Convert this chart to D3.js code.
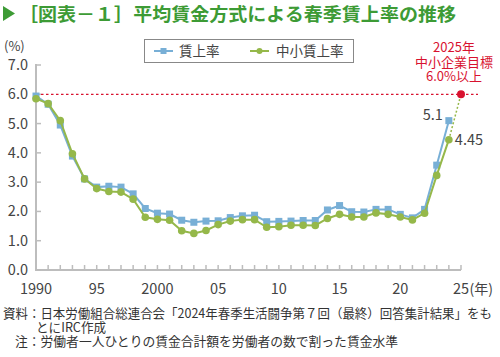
<!DOCTYPE html>
<html><head><meta charset="utf-8">
<script src="https://cdn.jsdelivr.net/npm/d3@7"></script>
<style>
html,body{margin:0;padding:0;background:#fff;}
svg{display:block;font-family:"Noto Sans CJK JP","Noto Sans",sans-serif;}
</style></head>
<body>
<svg id="c" width="500" height="357"></svg>
<script>
const years = d3.range(1990, 2025);
const wageRate = [5.94,5.66,4.95,3.89,3.11,2.83,2.86,2.83,2.60,2.10,1.94,1.91,1.70,1.63,1.67,1.68,1.79,1.85,1.87,1.65,1.66,1.67,1.69,1.69,2.05,2.20,1.99,1.98,2.07,2.07,1.90,1.78,2.07,3.58,5.10];
const smeRate  = [5.85,5.68,5.10,3.97,3.11,2.78,2.68,2.66,2.42,1.80,1.73,1.70,1.34,1.25,1.35,1.55,1.67,1.72,1.72,1.46,1.48,1.53,1.53,1.52,1.76,1.90,1.81,1.81,1.95,1.90,1.81,1.71,1.94,3.23,4.45];
const target = {year: 2025, value: 6.0};
const yTicks = [0,1,2,3,4,5,6,7];
const xTickLabels = [[1990,"1990"],[1995,"95"],[2000,"2000"],[2005,"05"],[2010,"10"],[2015,"15"],[2020,"20"],[2025,"25"]];
const seriesNames = ["賃上率","中小賃上率"];
const title = "［図表－１］平均賃金方式による春季賃上率の推移";
const annotation = ["2025年","中小企業目標","6.0%以上"];
const notes = ["資料：日本労働組合総連合会「2024年春季生活闘争第７回（最終）回答集計結果」をも","とにIRC作成","注：労働者一人ひとりの賃金合計額を労働者の数で割った賃金水準"];

const blue = "#78afd6", green = "#95b84a", red = "#d8122f", axisC = "#bdbdbd", txt = "#444";
const svg = d3.select("#c");
const x = d3.scaleLinear().domain([1990, 2025]).range([36, 461]);
const y = d3.scaleLinear().domain([0, 7]).range([270, 65]);

// title
svg.append("path").attr("d","M3,6 L15,13.5 L3,21 Z").attr("fill","#3d9b35");
svg.append("text").attr("x",19).attr("y",21).attr("fill","#3d9b35")
  .attr("font-size",18.5).attr("font-weight","bold")
  .attr("textLength",437).attr("lengthAdjust","spacingAndGlyphs").text(title);

// axes
svg.append("text").attr("x",4).attr("y",51).attr("font-size",13).attr("fill",txt).text("(%)");
const ga = svg.append("g");
ga.append("line").attr("x1",x(1990)).attr("x2",x(1990)).attr("y1",y(7)-1).attr("y2",y(0)+1).attr("stroke",axisC).attr("stroke-width",2);
ga.append("line").attr("x1",x(1990)-1).attr("x2",x(2025)).attr("y1",y(0)).attr("y2",y(0)).attr("stroke",axisC).attr("stroke-width",2);
ga.selectAll(".yt").data(yTicks).join("line").attr("x1",x(1990)).attr("x2",x(1990)+5)
  .attr("y1",d=>y(d)).attr("y2",d=>y(d)).attr("stroke",axisC).attr("stroke-width",1.5);
ga.selectAll(".ytl").data(yTicks).join("text").attr("x",28).attr("y",d=>y(d)+5)
  .attr("text-anchor","end").attr("font-size",14.5).attr("fill",txt).text(d=>d.toFixed(1));
ga.selectAll(".xt").data(d3.range(1991, 2026)).join("line").attr("x1",d=>x(d)).attr("x2",d=>x(d))
  .attr("y1",y(0)).attr("y2",y(0)-5).attr("stroke",axisC).attr("stroke-width",1.5);
ga.selectAll(".xtl").data(xTickLabels).join("text").attr("x",d=>x(d[0])).attr("y",294)
  .attr("text-anchor","middle").attr("font-size",14.5).attr("fill",txt).text(d=>d[1]);
ga.append("text").attr("x",x(2025)+8.5).attr("y",294).attr("font-size",14).attr("fill",txt).text("(年)");

// target line
svg.append("line").attr("x1",x(1990)).attr("x2",478).attr("y1",y(target.value)).attr("y2",y(target.value))
  .attr("stroke",red).attr("stroke-width",1.3).attr("stroke-dasharray","2.5,2.5");

// series
const line = d3.line().x((d,i)=>x(years[i])).y(d=>y(d));
svg.append("path").datum(wageRate).attr("d",line).attr("fill","none").attr("stroke",blue).attr("stroke-width",2);
svg.selectAll(".sq").data(wageRate).join("rect").attr("x",(d,i)=>x(years[i])-3.5).attr("y",d=>y(d)-3.5)
  .attr("width",7).attr("height",7).attr("fill",blue);
svg.append("path").datum(smeRate).attr("d",line).attr("fill","none").attr("stroke",green).attr("stroke-width",2);
svg.selectAll(".ci").data(smeRate).join("circle").attr("cx",(d,i)=>x(years[i])).attr("cy",d=>y(d))
  .attr("r",3.8).attr("fill",green);

// dotted to target
svg.append("line").attr("x1",x(2024)).attr("y1",y(smeRate[smeRate.length-1]))
  .attr("x2",x(target.year)).attr("y2",y(target.value))
  .attr("stroke",green).attr("stroke-width",1.5).attr("stroke-dasharray","2,2");
svg.append("circle").attr("cx",x(target.year)).attr("cy",y(target.value)).attr("r",4).attr("fill",red);

// value labels
svg.append("text").attr("x",x(2024)-6).attr("y",y(wageRate[wageRate.length-1])-1).attr("text-anchor","end")
  .attr("font-size",14.5).attr("fill",txt).text("5.1");
svg.append("text").attr("x",x(2024)+6).attr("y",y(smeRate[smeRate.length-1])+5)
  .attr("font-size",14.5).attr("fill",txt).text("4.45");

// annotation
svg.selectAll(".an").data(annotation).join("text").attr("x",454).attr("y",(d,i)=>52+i*14.7)
  .attr("text-anchor","middle").attr("font-size",13).attr("fill",red).text(d=>d);

// legend
const lg = svg.append("g");
lg.append("rect").attr("x",144.5).attr("y",39.5).attr("width",209).attr("height",23)
  .attr("fill","#fff").attr("stroke","#888").attr("stroke-width",1);
lg.append("line").attr("x1",154).attr("x2",173).attr("y1",51).attr("y2",51).attr("stroke",blue).attr("stroke-width",2);
lg.append("rect").attr("x",160.5).attr("y",48).attr("width",6).attr("height",6).attr("fill",blue);
lg.append("text").attr("x",179).attr("y",56).attr("font-size",13.5).attr("fill",txt).text(seriesNames[0]);
lg.append("line").attr("x1",250).attr("x2",269).attr("y1",51).attr("y2",51).attr("stroke",green).attr("stroke-width",2);
lg.append("circle").attr("cx",259.5).attr("cy",51).attr("r",3).attr("fill",green);
lg.append("text").attr("x",276).attr("y",56).attr("font-size",13.5).attr("fill",txt).text(seriesNames[1]);

// notes
svg.append("text").attr("x",3).attr("y",318).attr("font-size",12.6).attr("fill","#333")
  .attr("textLength",489).attr("lengthAdjust","spacingAndGlyphs").text(notes[0]);
svg.append("text").attr("x",36).attr("y",332).attr("font-size",12.6).attr("fill","#333").text(notes[1]);
svg.append("text").attr("x",15).attr("y",346).attr("font-size",12.6).attr("fill","#333")
  .attr("textLength",383).attr("lengthAdjust","spacingAndGlyphs").text(notes[2]);
</script>
</body></html>
